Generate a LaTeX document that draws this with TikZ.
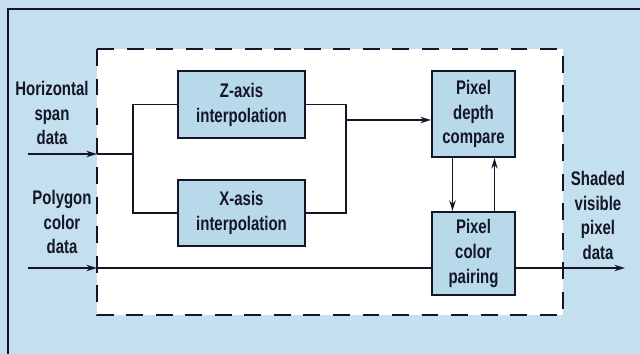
\documentclass[tikz,border=0pt]{standalone}
\usepackage{fontspec}
\setmainfont{Liberation Sans}[FakeStretch=0.76]
\usetikzlibrary{arrows.meta}

\definecolor{panelblue}{RGB}{196,224,238}
\definecolor{boxblue}{RGB}{184,217,234}
\definecolor{inkblue}{RGB}{20,22,40}

\tikzset{
    stage/.style={draw=inkblue, line width=1.4pt, fill=boxblue, align=center,
        font=\bfseries\fontsize{14}{17.7}\selectfont, text=inkblue, inner sep=2pt},
    label/.style={align=center, font=\bfseries\fontsize{14}{17.7}\selectfont, text=inkblue},
    wire/.style={draw=inkblue, line width=1.3pt},
    >={Stealth[length=7.5pt,width=4.5pt]}
}

\begin{document}
\begin{tikzpicture}[x=0.025cm, y=-0.025cm]
    \useasboundingbox (0,0) rectangle (640,354);

    % fondo y marco
    \fill[panelblue] (0,0) rectangle (640,354);
    \draw[inkblue, line width=1.2pt] (640,9) -- (8,9) -- (8,354);

    % zona punteada
    \fill[white] (97,49) rectangle (563,315);
    \draw[inkblue, line width=1.4pt, dash pattern=on 12pt off 9pt] (97,49) rectangle (563,315);

    % bloques
    \node[stage, minimum width=3.175cm, minimum height=1.675cm] (zaxis) at (241.5,104.5) {Z-axis\\interpolation};
    \node[stage, minimum width=3.175cm, minimum height=1.65cm] (xaxis) at (241.5,213) {X-asis\\interpolation};
    \node[stage, minimum width=2.075cm, minimum height=2.15cm] (depth) at (473.5,114) {Pixel\\depth\\compare};
    \node[stage, minimum width=2.075cm, minimum height=2.075cm] (color) at (473.5,253.5) {Pixel\\color\\pairing};

    % textos de entrada y salida
    \node[label] (hspan) at (52,113) {Horizontal\\span\\data};
    \node[label] (polycol) at (62,222) {Polygon\\color\\data};
    \node[label] (shaded) at (598,215.5) {Shaded\\visible\\pixel\\data};

    % puntos auxiliares
    \coordinate (hin) at (28,154);
    \coordinate (hedge) at (97,154);
    \coordinate (split) at (133,154);
    \coordinate (pin) at (28,268);
    \coordinate (pedge) at (97,268);
    \coordinate (merge) at (346,120);
    \coordinate (pout) at (625,268);

    % entrada de span horizontal y bifurcacion
    \draw[wire, ->] (hin) -- (hedge);
    \draw[wire] (hedge) -- (split);
    \draw[wire] (zaxis.west) -| (split) |- (xaxis.west);

    % union hacia el comparador
    \draw[wire] (zaxis.east) -| (merge) |- (xaxis.east);
    \draw[wire, ->] (merge) -- (merge -| depth.west);

    % lazo entre comparador y combinador
    \draw[wire, ->] ([xshift=-0.525cm]depth.south) -- ([xshift=-0.525cm]color.north);
    \draw[wire, ->] ([xshift=0.525cm]color.north) -- ([xshift=0.525cm]depth.south);

    % color del poligono y salida
    \draw[wire, ->] (pin) -- (pedge);
    \draw[wire] (pedge) -- (pedge -| color.west);
    \draw[wire, ->] (pedge -| color.east) -- (pout);
\end{tikzpicture}
\end{document}
